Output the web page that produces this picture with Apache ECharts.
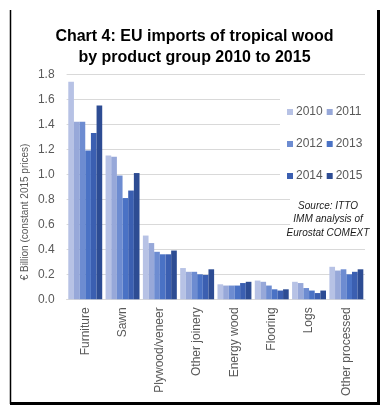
<!DOCTYPE html>
<html>
<head>
<meta charset="utf-8">
<script src="https://cdn.jsdelivr.net/npm/echarts@6/dist/echarts.min.js"></script>
<style>
html,body{margin:0;padding:0;background:#fff;}
#c{width:389px;height:418px;}
</style>
</head>
<body>
<div id="c"></div>
<script>
var categories = ['Furniture','Sawn','Plywood/veneer','Other joinery','Energy wood','Flooring','Logs','Other processed'];
var years = ['2010','2011','2012','2013','2014','2015'];
var v2010 = [1.74, 1.15, 0.51, 0.25, 0.12, 0.15, 0.14, 0.26];
var v2011 = [1.42, 1.14, 0.45, 0.22, 0.11, 0.14, 0.13, 0.23];
var v2012 = [1.42, 0.99, 0.38, 0.22, 0.11, 0.11, 0.09, 0.24];
var v2013 = [1.19, 0.81, 0.36, 0.20, 0.11, 0.08, 0.07, 0.20];
var v2014 = [1.33, 0.87, 0.36, 0.195, 0.13, 0.07, 0.05, 0.22];
var v2015 = [1.55, 1.01, 0.39, 0.24, 0.14, 0.08, 0.07, 0.24];
var yTicks = [0, 0.2, 0.4, 0.6, 0.8, 1.0, 1.2, 1.4, 1.6, 1.8];
var titleLines = ['Chart 4: EU imports of tropical wood', 'by product group 2010 to 2015'];
var yAxisTitle = '€ Billion (constant 2015 prices)';
var sourceLines = ['Source: ITTO', 'IMM analysis of', 'Eurostat COMEXT'];

var colors = ['#b7c2e5', '#97a8d9', '#6d8cd1', '#4a72c5', '#3b5fb1', '#2d4c93'];
var values = [v2010, v2011, v2012, v2013, v2014, v2015];
var font = 'Liberation Sans';

var series = years.map(function (y, i) {
  return {
    name: y, type: 'bar', data: values[i],
    barGap: '0%', barCategoryGap: '9%',
    itemStyle: { color: colors[i] },
    z: 2
  };
});

function legendRow(items, top) {
  return {
    data: items, left: 287, top: top, orient: 'horizontal',
    itemWidth: 6, itemHeight: 6, itemGap: 4, padding: 0,
    icon: 'rect', selectedMode: false,
    textStyle: { fontFamily: font, fontSize: 12, color: '#595959', padding: [0, 0, 0, -2] }
  };
}

var chart = echarts.init(document.getElementById('c'), null, { renderer: 'canvas' });
chart.setOption({
  backgroundColor: '#fff',
  animation: false,
  color: colors,
  title: {
    text: titleLines.join('\n'),
    left: 'center', top: 20.5,
    textStyle: { fontFamily: font, fontWeight: 'bold', fontSize: 16, color: '#000', lineHeight: 21.5 }
  },
  legend: [
    legendRow([years[0], years[1]], 106),
    legendRow([years[2], years[3]], 138),
    legendRow([years[4], years[5]], 170)
  ],
  grid: { left: 66.6, right: 24, top: 74.3, bottom: 118.7, containLabel: false },
  xAxis: {
    type: 'category', data: categories,
    axisLine: { show: true, lineStyle: { color: '#d9d9d9' } },
    axisTick: { show: false },
    axisLabel: { rotate: 90, margin: 8, fontFamily: font, fontSize: 12, color: '#595959', interval: 0 }
  },
  yAxis: {
    type: 'value', min: yTicks[0], max: yTicks[yTicks.length - 1], interval: 0.2,
    axisLine: { show: false }, axisTick: { show: false },
    splitLine: { lineStyle: { color: '#d9d9d9', width: 1 } },
    axisLabel: { margin: 12, fontFamily: font, fontSize: 12, color: '#595959',
      formatter: function (v) { return v.toFixed(1); } }
  },
  graphic: [
    { type: 'rect', z: 1, shape: { x: 280, y: 92, width: 96, height: 100 }, style: { fill: '#fff' } },
    { type: 'rect', z: 1, shape: { x: 290, y: 192, width: 86, height: 52 }, style: { fill: '#fff' } },
    { type: 'text', z: 5, x: 328, y: 219.5,
      style: { text: sourceLines.join('\n'), fontFamily: font, fontStyle: 'italic', fontSize: 10,
        lineHeight: 13.5, fill: '#1a1a1a', textAlign: 'center', textVerticalAlign: 'middle' } },
    { type: 'text', z: 5, x: 25, y: 212, rotation: Math.PI / 2,
      style: { text: yAxisTitle, fontFamily: font, fontSize: 10, fill: '#595959',
        textAlign: 'center', textVerticalAlign: 'middle' } },
    { type: 'line', z: 6, shape: { x1: 10.5, y1: 10, x2: 10.5, y2: 404 }, style: { stroke: '#000', lineWidth: 1.5 } },
    { type: 'line', z: 6, shape: { x1: 10, y1: 403.5, x2: 380, y2: 403.5 }, style: { stroke: '#000', lineWidth: 3 } },
    { type: 'line', z: 6, shape: { x1: 378.5, y1: 10, x2: 378.5, y2: 405 }, style: { stroke: '#000', lineWidth: 3 } }
  ],
  series: series
});
</script>
</body>
</html>
